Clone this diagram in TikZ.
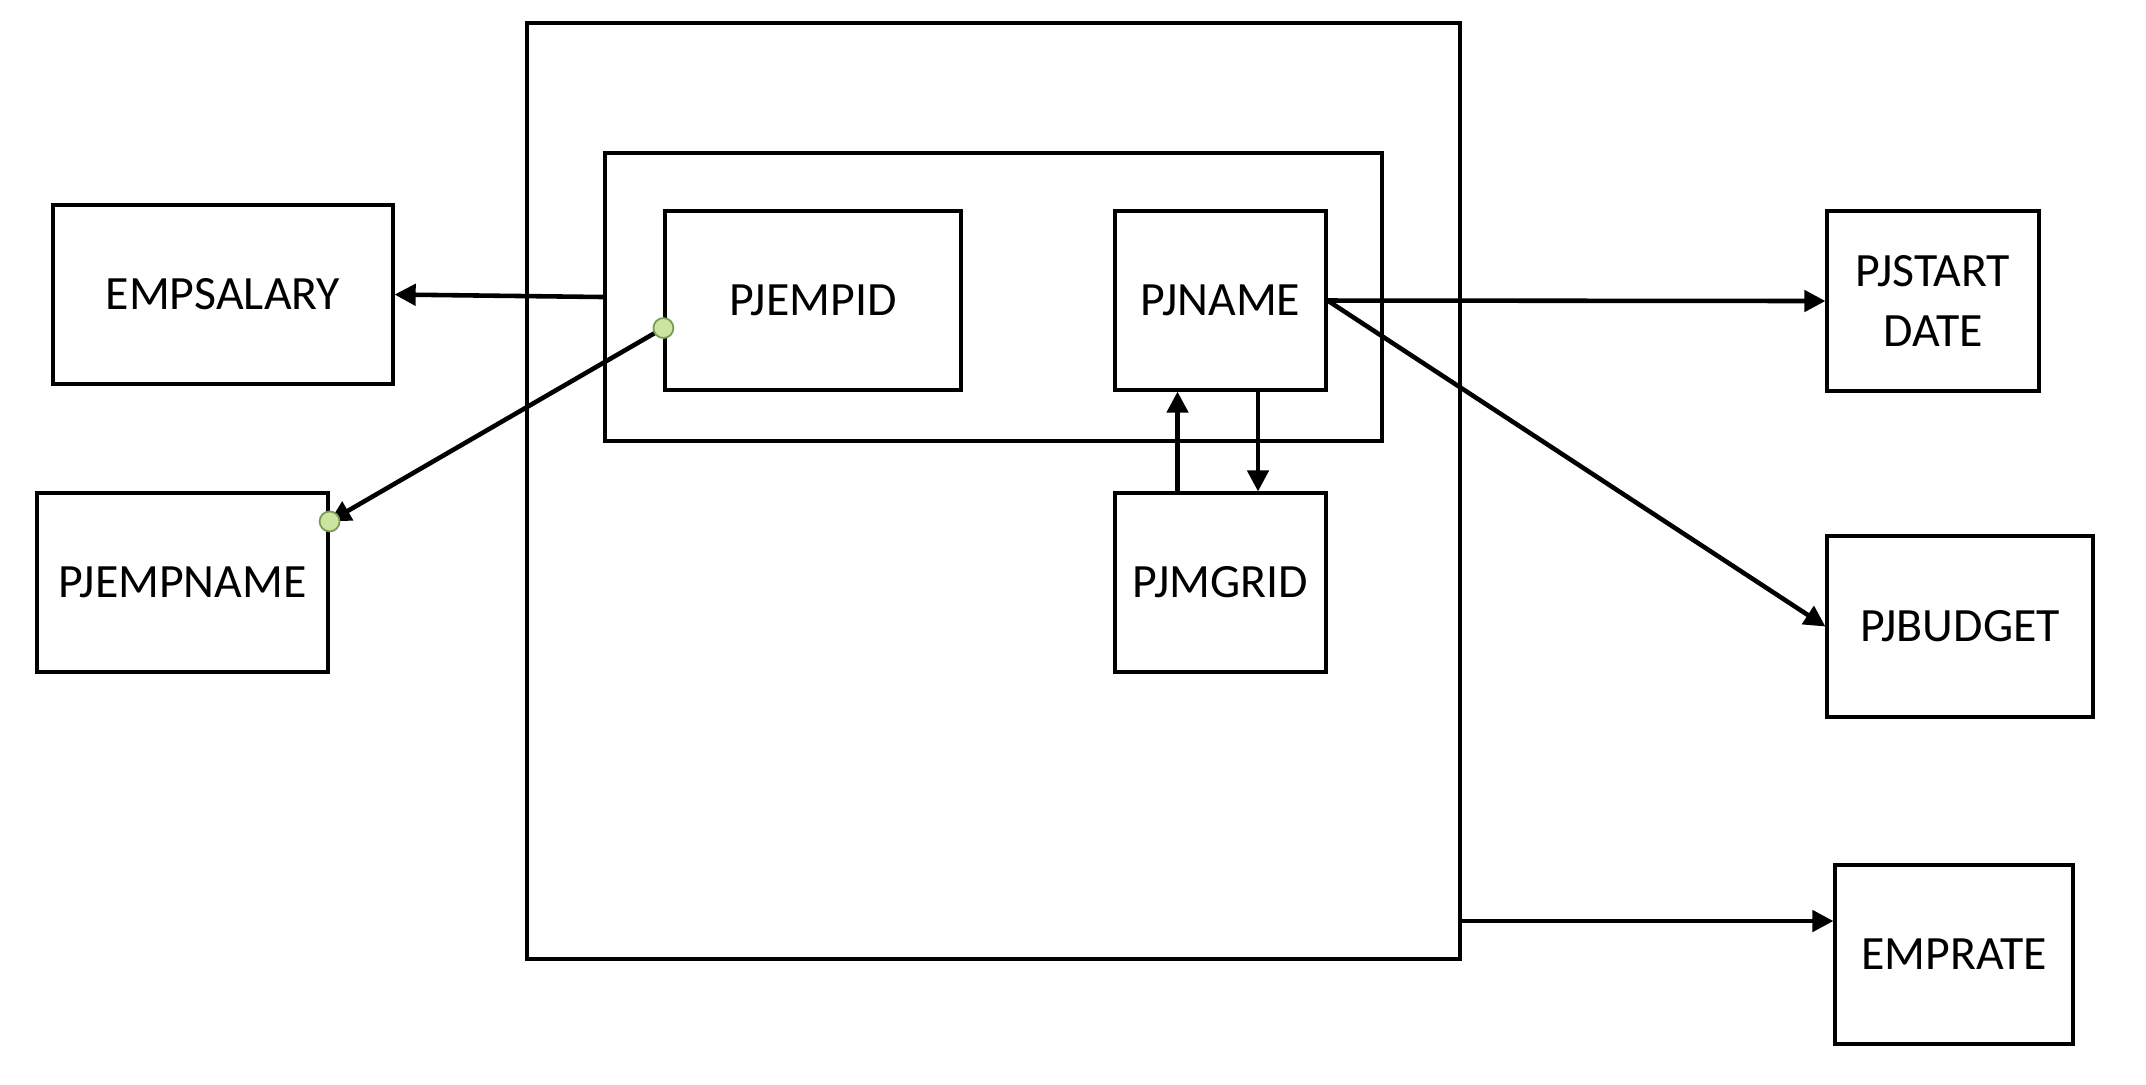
\documentclass[tikz,border=0pt]{standalone}
\usepackage{fontspec}
\setmainfont{Carlito}
\usepackage{tikz}
\usetikzlibrary{arrows.meta, positioning, calc}
\definecolor{dotGreen}{HTML}{C9E5A0}
\definecolor{dotEdge}{HTML}{7A9A55}

\begin{document}
\begin{tikzpicture}[font=\fontsize{13.6}{16}\selectfont,
    box/.style={draw, line width=0.9pt, inner sep=0pt, align=center},
    link/.style={-{Triangle[length=6pt, width=6pt]}, line width=1.3pt},
    joint/.style={circle, draw=dotEdge, fill=dotGreen, line width=0.5pt, inner sep=0pt, minimum size=0.2cm}]
  \useasboundingbox (0,0) rectangle (21.46,-10.84);
  % frames
  \node[box, minimum width=9.33cm, minimum height=9.36cm] (outer) at (9.935,-4.91) {};
  \node[box, minimum width=7.77cm, minimum height=2.88cm] (inner) at (9.935,-2.97) {};
  % attributes inside
  \node[box, minimum width=2.96cm, minimum height=1.79cm] (pjempid) at (8.13,-3.005) {PJEMPID};
  \node[box, minimum width=2.11cm, minimum height=1.79cm] (pjname) at (12.205,-3.005) {PJNAME};
  \node[box, minimum width=2.11cm, minimum height=1.79cm] (pjmgrid) at (12.205,-5.825) {PJMGRID};
  % left side
  \node[box, minimum width=3.40cm, minimum height=1.79cm] (empsalary) at (2.23,-2.945) {EMPSALARY};
  \node[box, minimum width=2.91cm, minimum height=1.79cm] (pjempname) at (1.825,-5.825) {PJEMPNAME};
  % right side
  \node[box, minimum width=2.12cm, minimum height=1.80cm] (pjstart) at (19.33,-3.01) {PJSTART\\[1pt]DATE};
  \node[box, minimum width=2.66cm, minimum height=1.81cm] (pjbudget) at (19.60,-6.265) {PJBUDGET};
  \node[box, minimum width=2.38cm, minimum height=1.79cm] (emprate) at (19.54,-9.545) {EMPRATE};
  % connectors
  \draw[link] (inner.west) -- (empsalary.east);
  \coordinate (d1) at ($(pjempid.west)+(0,-0.275)$);
  \coordinate (d2) at ($(pjempname.north east)+(0,-0.30)$);
  \draw[link] (d1) -- (d2);
  \node[joint] (j1) at (d1) {};
  \node[joint] (j2) at (d2) {};
  \draw[link] (pjname.east) -- (pjstart.west);
  \draw[link] (pjname.east) -- (pjbudget.west);
  \draw[link] ([xshift=-0.43cm]pjmgrid.north) -- ([xshift=-0.43cm]pjname.south);
  \draw[link] ([xshift=0.375cm]pjname.south) -- ([xshift=0.375cm]pjmgrid.north);
  \coordinate (r1) at (14.60,-9.21);
  \draw[link] (r1) -- (r1 -| emprate.west);
\end{tikzpicture}
\end{document}
